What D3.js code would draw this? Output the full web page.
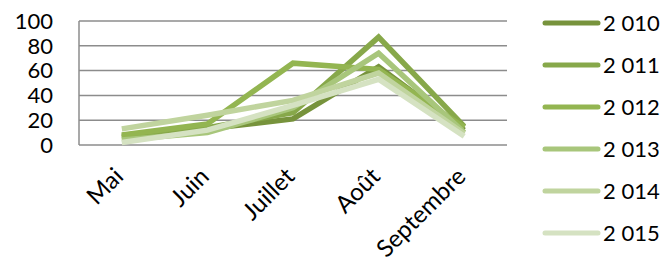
<!DOCTYPE html>
<html><head><meta charset="utf-8">
<script src="https://cdn.jsdelivr.net/npm/d3@7"></script>
<style>body{margin:0;background:#fff}svg{display:block}text{font-family:Lato,"Open Sans",sans-serif;fill:#000}</style>
</head><body><svg id="c" width="666" height="265"></svg>
<script>
const months = ["Mai","Juin","Juillet","Août","Septembre"];
const years = ["2 010","2 011","2 012","2 013","2 014","2 015"];
const colors = ["#77933C","#87A84A","#93B551","#A8C67B","#C0D49E","#D5E2C2"];
const v2010 = [7, 13, 21, 63, 12];
const v2011 = [6, 14, 26, 87, 15];
const v2012 = [8, 17, 66, 61, 14];
const v2013 = [4, 10, 30, 74, 10];
const v2014 = [13, 24, 36, 58, 9];
const v2015 = [2, 12, 32, 53, 7];
const yTicks = [0,20,40,60,80,100];
const series = [v2010,v2011,v2012,v2013,v2014,v2015];

const svg = d3.select("#c");
const x = d3.scaleBand().domain(months).range([79,507]);
const y = d3.scaleLinear().domain([0,100]).range([145,21]);

svg.append("g").selectAll("line").data(yTicks).join("line")
  .attr("x1",79).attr("x2",507).attr("y1",d=>y(d)).attr("y2",d=>y(d))
  .attr("stroke","#8c8c8c").attr("stroke-width",1.5);
svg.append("line").attr("x1",79).attr("x2",79).attr("y1",y(100)).attr("y2",y(0))
  .attr("stroke","#8c8c8c").attr("stroke-width",1.5);

svg.append("g").selectAll("text").data(yTicks).join("text")
  .attr("x",53).attr("y",d=>y(d)).attr("dy","0.35em").attr("text-anchor","end")
  .attr("font-size",22).text(d=>d);

const line = d3.line().x((d,i)=>x(months[i])+x.bandwidth()/2).y(d=>y(d));
svg.append("g").selectAll("path").data(series).join("path")
  .attr("d",line).attr("fill","none").attr("stroke",(d,i)=>colors[i])
  .attr("stroke-width",5.5).attr("stroke-linejoin","miter").attr("stroke-linecap","butt");

svg.append("g").selectAll("text").data(months).join("text")
  .attr("transform",d=>`translate(${x(d)+x.bandwidth()/2+3},${178}) rotate(-45)`)
  .attr("text-anchor","end").attr("font-size",24).text(d=>d);

const lg = svg.append("g").selectAll("g").data(years).join("g")
  .attr("transform",(d,i)=>`translate(0,${23+i*42})`);
lg.append("line").attr("x1",545).attr("x2",598).attr("stroke",(d,i)=>colors[i])
  .attr("stroke-width",5).attr("stroke-linecap","round");
lg.append("text").attr("x",603).attr("dy","0.35em").attr("font-size",22).text(d=>d);
</script></body></html>
